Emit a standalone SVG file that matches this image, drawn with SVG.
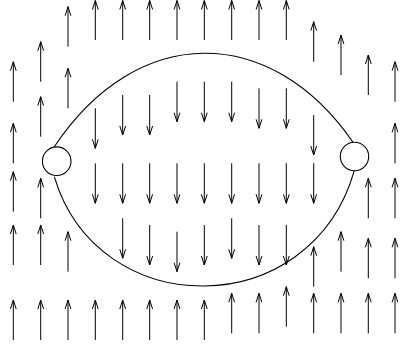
<svg xmlns="http://www.w3.org/2000/svg" width="400" height="347" viewBox="0 0 400 347">
<style>
.a{stroke:#000;stroke-width:1;fill:none;marker-end:url(#h)}
.c{stroke:#000;stroke-width:1.1;fill:none}
.n{stroke:#000;stroke-width:1.1;fill:#fff}
</style>
<defs>
<marker id="h" markerUnits="userSpaceOnUse" markerWidth="12" markerHeight="8" viewBox="-10 -4 12 8" refX="0" refY="0" orient="auto">
<path d="M-9,-2.9 L0,0 L-9,2.9" fill="none" stroke="#000" stroke-width="1"/>
</marker>
</defs>
<rect width="400" height="347" fill="#fff"/>
<g id="connectors">
<path class="c" d="M54.3,146.7 C136.8,22.8 270.8,22.8 353.3,142.7"/>
<path class="c" d="M54.3,176.7 C97.8,323.4 310.8,323.4 354.3,170.7"/>
</g>
<g id="arrows">
<line class="a" x1="13.3" y1="101.7" x2="13.3" y2="61.7"/>
<line class="a" x1="13.3" y1="163.3" x2="13.3" y2="123.3"/>
<line class="a" x1="13.3" y1="211.7" x2="13.3" y2="171.7"/>
<line class="a" x1="13.3" y1="265" x2="13.3" y2="225"/>
<line class="a" x1="13.3" y1="340" x2="13.3" y2="300"/>
<line class="a" x1="40.7" y1="81.7" x2="40.7" y2="41.7"/>
<line class="a" x1="40.7" y1="136.7" x2="40.7" y2="96.7"/>
<line class="a" x1="40.7" y1="218.3" x2="40.7" y2="178.3"/>
<line class="a" x1="40.7" y1="265" x2="40.7" y2="225"/>
<line class="a" x1="40.7" y1="340" x2="40.7" y2="300"/>
<line class="a" x1="68" y1="46.7" x2="68" y2="6.7"/>
<line class="a" x1="68" y1="108.3" x2="68" y2="68.3"/>
<line class="a" x1="68" y1="271.7" x2="68" y2="231.7"/>
<line class="a" x1="68" y1="340" x2="68" y2="300"/>
<line class="a" x1="95.3" y1="40" x2="95.3" y2="0.5"/>
<line class="a" x1="95.3" y1="108.3" x2="95.3" y2="148.3"/>
<line class="a" x1="95.3" y1="163.3" x2="95.3" y2="203.3"/>
<line class="a" x1="95.3" y1="340" x2="95.3" y2="300"/>
<line class="a" x1="122.7" y1="40" x2="122.7" y2="0.5"/>
<line class="a" x1="122.7" y1="95" x2="122.7" y2="135"/>
<line class="a" x1="122.7" y1="163.3" x2="122.7" y2="203.3"/>
<line class="a" x1="122.7" y1="218.3" x2="122.7" y2="258.3"/>
<line class="a" x1="122.7" y1="340" x2="122.7" y2="300"/>
<line class="a" x1="149.7" y1="40" x2="149.7" y2="0.5"/>
<line class="a" x1="149.7" y1="95" x2="149.7" y2="135"/>
<line class="a" x1="149.7" y1="163.3" x2="149.7" y2="203.3"/>
<line class="a" x1="149.7" y1="225" x2="149.7" y2="265"/>
<line class="a" x1="149.7" y1="340" x2="149.7" y2="300"/>
<line class="a" x1="177" y1="40" x2="177" y2="0.5"/>
<line class="a" x1="177" y1="81.7" x2="177" y2="121.7"/>
<line class="a" x1="177" y1="163.3" x2="177" y2="203.3"/>
<line class="a" x1="177" y1="231.7" x2="177" y2="271.7"/>
<line class="a" x1="177" y1="340" x2="177" y2="300"/>
<line class="a" x1="204.3" y1="40" x2="204.3" y2="0.5"/>
<line class="a" x1="204.3" y1="81.7" x2="204.3" y2="121.7"/>
<line class="a" x1="204.3" y1="163.3" x2="204.3" y2="203.3"/>
<line class="a" x1="204.3" y1="225" x2="204.3" y2="265"/>
<line class="a" x1="204.3" y1="340" x2="204.3" y2="300"/>
<line class="a" x1="231.7" y1="40" x2="231.7" y2="0.5"/>
<line class="a" x1="231.7" y1="81.7" x2="231.7" y2="121.7"/>
<line class="a" x1="231.7" y1="163.3" x2="231.7" y2="203.3"/>
<line class="a" x1="231.7" y1="218.3" x2="231.7" y2="258.3"/>
<line class="a" x1="231.7" y1="333.3" x2="231.7" y2="293.3"/>
<line class="a" x1="259" y1="40" x2="259" y2="0.5"/>
<line class="a" x1="259" y1="88.3" x2="259" y2="128.3"/>
<line class="a" x1="259" y1="163.3" x2="259" y2="203.3"/>
<line class="a" x1="259" y1="225" x2="259" y2="265"/>
<line class="a" x1="259" y1="333.3" x2="259" y2="293.3"/>
<line class="a" x1="286.3" y1="40" x2="286.3" y2="0.5"/>
<line class="a" x1="286.3" y1="88.3" x2="286.3" y2="128.3"/>
<line class="a" x1="286.3" y1="163.3" x2="286.3" y2="203.3"/>
<line class="a" x1="286.3" y1="225" x2="286.3" y2="265"/>
<line class="a" x1="286.3" y1="326.7" x2="286.3" y2="286.7"/>
<line class="a" x1="313.7" y1="61.7" x2="313.7" y2="21.7"/>
<line class="a" x1="313.7" y1="115" x2="313.7" y2="155"/>
<line class="a" x1="313.7" y1="163.3" x2="313.7" y2="203.3"/>
<line class="a" x1="313.7" y1="286.7" x2="313.7" y2="246.7"/>
<line class="a" x1="313.7" y1="333.3" x2="313.7" y2="293.3"/>
<line class="a" x1="341" y1="75" x2="341" y2="35"/>
<line class="a" x1="341" y1="271.7" x2="341" y2="231.7"/>
<line class="a" x1="341" y1="333.3" x2="341" y2="293.3"/>
<line class="a" x1="368.3" y1="95" x2="368.3" y2="55"/>
<line class="a" x1="368.3" y1="218.3" x2="368.3" y2="178.3"/>
<line class="a" x1="368.3" y1="278.3" x2="368.3" y2="238.3"/>
<line class="a" x1="368.3" y1="333.3" x2="368.3" y2="293.3"/>
<line class="a" x1="395" y1="101.7" x2="395" y2="61.7"/>
<line class="a" x1="395" y1="163.3" x2="395" y2="123.3"/>
<line class="a" x1="395" y1="218.3" x2="395" y2="178.3"/>
<line class="a" x1="395" y1="278.3" x2="395" y2="238.3"/>
<line class="a" x1="395" y1="333.3" x2="395" y2="293.3"/>
</g>
<g id="node-left"><circle class="n" cx="56.7" cy="161.2" r="14.3"/></g>
<g id="node-right"><circle class="n" cx="354.5" cy="156.5" r="14.2"/></g>
</svg>
